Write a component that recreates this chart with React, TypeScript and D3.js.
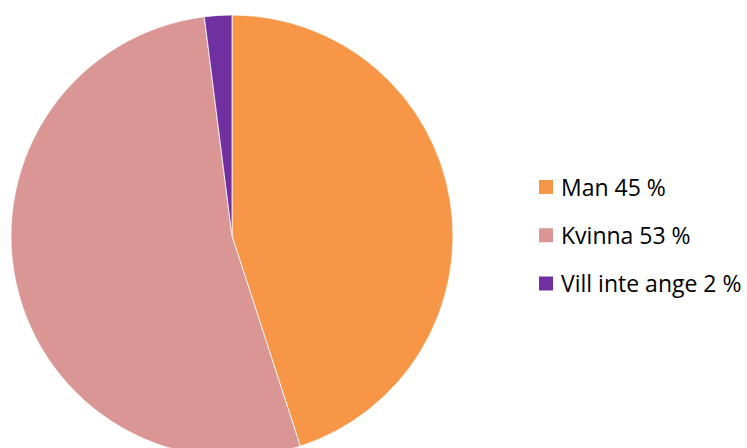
import React from "react";
import * as d3 from "d3";

const categories = ["Man", "Kvinna", "Vill inte ange"];
const values = [45, 53, 2];
const labels = ["Man 45 %", "Kvinna 53 %", "Vill inte ange 2 %"];
const colors = ["#F79646", "#D99694", "#7030A0"];

export default function App() {
  const width = 747;
  const height = 448;
  const cx = 232;
  const cy = 236;
  const r = 221;
  const pie = d3.pie<number>().sort(null).value((d) => d)(values);
  const arc = d3.arc<d3.PieArcDatum<number>>().innerRadius(0).outerRadius(r);
  const legendY = d3.scalePoint<string>().domain(categories).range([187, 283.5]);
  return (
    <svg
      width={width}
      height={height}
      style={{ position: "absolute", left: 0, top: 0, display: "block" }}
    >
      <rect width={width} height={height} fill="#fff" />
      <g transform={`translate(${cx},${cy})`}>
        {pie.map((p, i) => (
          <path key={i} d={arc(p) || ""} fill={colors[i]} stroke="#fff" strokeWidth={0.75} />
        ))}
      </g>
      {categories.map((c, i) => (
        <g key={c} transform={`translate(539,${legendY(c)})`}>
          <rect x={0} y={-7} width={14} height={14} fill={colors[i]} />
          <text
            x={22}
            y={8.5}
            fontFamily="'Open Sans', sans-serif"
            fontSize={23}
            fill="#000"
          >
            {labels[i]}
          </text>
        </g>
      ))}
    </svg>
  );
}
